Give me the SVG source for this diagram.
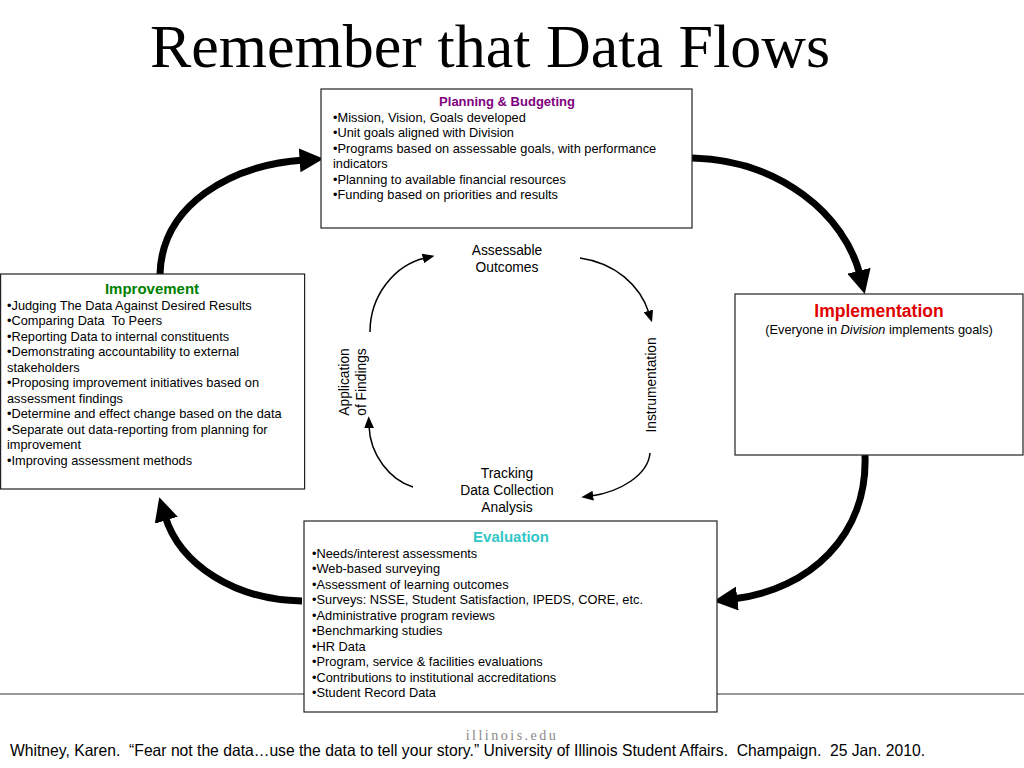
<svg xmlns="http://www.w3.org/2000/svg" width="1024" height="768" viewBox="0 0 1024 768">
<defs>
<style>
.box{fill:#fff;stroke:#222;stroke-width:1.2}
.t{font-family:"Liberation Sans",Arial,sans-serif;font-size:12.8px;fill:#000}
.h{font-family:"Liberation Sans",Arial,sans-serif;font-weight:bold;text-anchor:middle}
.c{font-family:"Liberation Sans",Arial,sans-serif;font-size:13.8px;fill:#000;text-anchor:middle}
.thick{fill:none;stroke:#000;stroke-width:7}
.thin{fill:none;stroke:#000;stroke-width:1.5}
</style>
<marker id="big" markerUnits="userSpaceOnUse" markerWidth="24" markerHeight="24" viewBox="0 0 22 22" refX="4" refY="11" orient="auto">
<path d="M0,0 L22,11 L0,22 z" fill="#000"/>
</marker>
<marker id="small" markerUnits="userSpaceOnUse" markerWidth="12" markerHeight="10" viewBox="0 0 11 9" refX="2" refY="4.5" orient="auto">
<path d="M0,0 L11,4.5 L0,9 z" fill="#000"/>
</marker>
</defs>
<rect width="1024" height="768" fill="#fff"/>
<text x="490" y="67" font-family="'Liberation Serif','Times New Roman',serif" font-size="62" text-anchor="middle" fill="#000">Remember that Data Flows</text>
<line x1="0" y1="694" x2="1024" y2="694" stroke="#777" stroke-width="1.5"/>

<g id="connectors">
<path class="thick" d="M160,274 C162,205 230,165 304,160" marker-end="url(#big)"/>
<path class="thick" d="M692,158 C780,160 845,215 860,275" marker-end="url(#big)"/>
<path class="thick" d="M865,455 C868,535 810,590 733,599" marker-end="url(#big)"/>
<path class="thick" d="M302,601 C235,600 180,565 165,516" marker-end="url(#big)"/>
<path class="thin" d="M370,332 C370,295 395,265 425,258" marker-end="url(#small)"/>
<path class="thin" d="M580,258 C615,263 640,285 649,313" marker-end="url(#small)"/>
<path class="thin" d="M650,453 C648,475 620,492 591,496" marker-end="url(#small)"/>
<path class="thin" d="M413,487 C390,480 370,455 369,426" marker-end="url(#small)"/>
</g>

<g id="planning">
<rect class="box" x="321" y="89" width="371" height="139"/>
<text class="h" x="507" y="106" font-size="13" fill="#800080">Planning &amp; Budgeting</text>
<text class="t" x="333" y="121.5">•Mission, Vision, Goals developed</text>
<text class="t" x="333" y="137">•Unit goals aligned with Division</text>
<text class="t" x="333" y="152.5">•Programs based on assessable goals, with performance</text>
<text class="t" x="333" y="168">indicators</text>
<text class="t" x="333" y="183.5">•Planning to available financial resources</text>
<text class="t" x="333" y="199">•Funding based on priorities and results</text>
</g>

<g id="improvement">
<rect class="box" x="0.6" y="274" width="304" height="215"/>
<text class="h" x="152" y="294" font-size="15" fill="#008000">Improvement</text>
<text class="t" x="7" y="309.5">•Judging The Data Against Desired Results</text>
<text class="t" x="7" y="325" xml:space="preserve">•Comparing Data  To Peers</text>
<text class="t" x="7" y="340.5">•Reporting Data to internal constituents</text>
<text class="t" x="7" y="356">•Demonstrating accountability to external</text>
<text class="t" x="7" y="371.5">stakeholders</text>
<text class="t" x="7" y="387">•Proposing improvement initiatives based on</text>
<text class="t" x="7" y="402.5">assessment findings</text>
<text class="t" x="7" y="418">•Determine and effect change based on the data</text>
<text class="t" x="7" y="433.5">•Separate out data-reporting from planning for</text>
<text class="t" x="7" y="449">improvement</text>
<text class="t" x="7" y="464.5">•Improving assessment methods</text>
</g>

<g id="implementation">
<rect class="box" x="735" y="294" width="288" height="161"/>
<text class="h" x="879" y="317" font-size="17.5" fill="#e00000">Implementation</text>
<text class="t" x="879" y="334" text-anchor="middle">(Everyone in <tspan font-style="italic">Division</tspan> implements goals)</text>
</g>

<g id="evaluation">
<rect class="box" x="304" y="521" width="413" height="191"/>
<text class="h" x="511" y="542" font-size="15" fill="#33c6c6">Evaluation</text>
<text class="t" x="312" y="557.5">•Needs/interest assessments</text>
<text class="t" x="312" y="573">•Web-based surveying</text>
<text class="t" x="312" y="588.5">•Assessment of learning outcomes</text>
<text class="t" x="312" y="604">•Surveys: NSSE, Student Satisfaction, IPEDS, CORE, etc.</text>
<text class="t" x="312" y="619.5">•Administrative program reviews</text>
<text class="t" x="312" y="635">•Benchmarking studies</text>
<text class="t" x="312" y="650.5">•HR Data</text>
<text class="t" x="312" y="666">•Program, service &amp; facilities evaluations</text>
<text class="t" x="312" y="681.5">•Contributions to institutional accreditations</text>
<text class="t" x="312" y="697">•Student Record Data</text>
</g>

<g id="assessable-outcomes">
<text class="c" x="507" y="255">Assessable</text>
<text class="c" x="507" y="272">Outcomes</text>
</g>
<g id="instrumentation">
<text class="c" transform="translate(656,385) rotate(-90)">Instrumentation</text>
</g>
<g id="tracking">
<text class="c" x="507" y="478">Tracking</text>
<text class="c" x="507" y="495">Data Collection</text>
<text class="c" x="507" y="512">Analysis</text>
</g>
<g id="application-of-findings">
<text class="c" transform="translate(349,382) rotate(-90)">Application</text>
<text class="c" transform="translate(365.5,382) rotate(-90)">of Findings</text>
</g>

<text x="512" y="740" font-family="'Liberation Serif',serif" font-size="14" fill="#888" text-anchor="middle" letter-spacing="2.5">illinois.edu</text>
<text x="10" y="756" font-family="'Liberation Sans',Arial,sans-serif" font-size="16.5" fill="#000" textLength="915" lengthAdjust="spacingAndGlyphs" xml:space="preserve">Whitney, Karen.  “Fear not the data…use the data to tell your story.” University of Illinois Student Affairs.  Champaign.  25 Jan. 2010.</text>
</svg>
